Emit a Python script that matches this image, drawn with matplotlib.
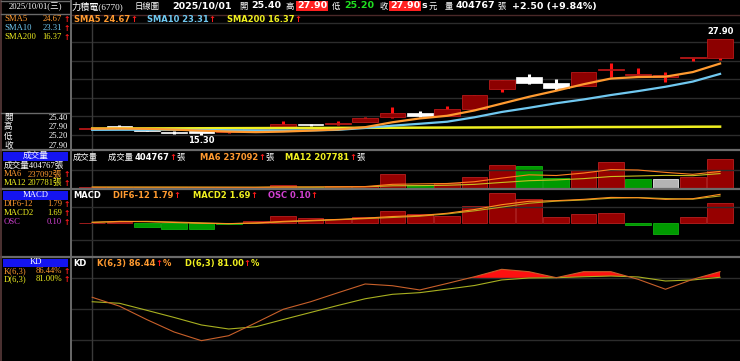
import numpy as np
import matplotlib
matplotlib.use("Agg")
import matplotlib.pyplot as plt
from matplotlib.patches import Rectangle

W, H = 740, 361

# daily bars, oldest first (last one = 2025/10/01)
opens  = [16.04, 16.25, 16.00, 15.72, 15.62, 15.62, 15.95, 16.36, 16.65, 16.68, 17.02, 17.60,
          18.20, 17.81, 18.65, 21.32, 22.86, 22.15, 21.72, 23.80, 23.12, 22.86, 25.35, 25.40]
highs  = [16.10, 16.58, 16.10, 15.75, 15.65, 15.75, 16.20, 17.10, 16.75, 17.10, 17.60, 19.00,
          18.47, 19.08, 20.55, 22.55, 23.26, 22.60, 23.55, 24.78, 24.04, 23.60, 25.45, 27.90]
lows   = [16.00, 16.15, 15.75, 15.45, 15.30, 15.60, 15.90, 16.30, 16.45, 16.60, 16.95, 17.55,
          17.60, 17.80, 18.60, 20.97, 21.98, 21.19, 21.70, 22.94, 23.03, 22.28, 25.05, 25.20]
closes = [16.07, 16.20, 15.80, 15.50, 15.55, 15.68, 16.10, 16.68, 16.55, 16.80, 17.47, 18.12,
          17.81, 18.69, 20.53, 22.51, 22.15, 21.41, 23.52, 23.84, 23.16, 23.16, 25.40, 27.90]

sma5   = [16.10, 16.12, 16.08, 15.98, 15.85, 15.72, 15.65, 15.72, 15.85, 16.00, 16.30, 16.95,
          17.45, 17.80, 18.50, 19.40, 20.30, 21.10, 21.95, 22.70, 22.90, 22.95, 23.55, 24.67]
sma10  = [15.95, 15.96, 15.96, 15.95, 15.93, 15.90, 15.88, 15.87, 15.88, 15.95, 16.20, 16.50,
          16.75, 17.02, 17.60, 18.30, 18.85, 19.45, 19.95, 20.53, 21.05, 21.62, 22.30, 23.31]
sma200 = [16.12, 16.13, 16.14, 16.15, 16.16, 16.17, 16.18, 16.19, 16.20, 16.21, 16.22, 16.23,
          16.24, 16.25, 16.26, 16.27, 16.28, 16.29, 16.31, 16.32, 16.33, 16.34, 16.36, 16.37]

volume = [27000, 22000, 22000, 22000, 22000, 22000, 22000, 54000, 22000, 35000, 45000, 202000,
          58000, 81000, 166000, 328000, 314000, 143000, 260000, 359000, 135000, 135000, 157000, 404767]
vol_dir = ['r', 'g', 'g', 'g', 'g', 'r', 'r', 'r', 'g', 'r', 'r', 'r',
           'g', 'r', 'r', 'r', 'g', 'g', 'r', 'r', 'g', 'n', 'r', 'r']
vol_ma6  = [24000, 24000, 24000, 23500, 23000, 22800, 22000, 27000, 27000, 29500, 33000, 63000,
            69000, 74000, 98000, 147000, 191000, 182000, 215000, 262000, 256000, 224000, 198000, 237092]
vol_ma12 = [26000, 25500, 25000, 25000, 24500, 24000, 24000, 26000, 26000, 27500, 30000, 43000,
            45700, 50600, 62600, 88000, 112000, 122500, 140000, 168000, 176000, 184000, 180000, 207781]

dif   = [0.06, 0.12, 0.10, 0.05, 0.00, -0.02, 0.02, 0.12, 0.18, 0.24, 0.32, 0.42,
         0.48, 0.62, 0.85, 1.15, 1.36, 1.40, 1.48, 1.60, 1.58, 1.48, 1.52, 1.79]
macd2 = [0.06, 0.11, 0.12, 0.08, 0.03, -0.02, 0.01, 0.09, 0.15, 0.22, 0.29, 0.36,
         0.44, 0.58, 0.77, 1.00, 1.24, 1.37, 1.44, 1.55, 1.59, 1.53, 1.49, 1.69]
osc   = [0.002, 0.007, -0.016, -0.028, -0.028, -0.003, 0.013, 0.034, 0.026, 0.021, 0.029, 0.058,
         0.044, 0.037, 0.084, 0.146, 0.117, 0.032, 0.045, 0.051, -0.008, -0.052, 0.032, 0.10]

k_val = [61.6, 53.0, 40.0, 28.0, 19.6, 24.4, 37.0, 50.0, 57.3, 66.0, 74.5, 72.8,
         68.7, 75.0, 81.5, 88.7, 86.4, 80.6, 86.4, 86.4, 79.0, 69.4, 79.0, 86.44]
d_val = [57.3, 55.8, 49.0, 42.1, 34.8, 30.9, 33.1, 40.1, 46.9, 53.7, 60.2, 64.5,
         66.1, 69.5, 73.0, 78.4, 80.3, 80.6, 81.5, 82.2, 81.3, 77.4, 78.4, 81.00]

# colours
ORANGE = '#ff9a30'
LBLUE = '#70c8f0'
YELLOW = '#f0f020'
MAGENTA = '#d040d0'
ARROW = '#ff1a1a'
WICK = '#ff1010'
GRID = '#2c2c2c'
SEP = '#6a6a6a'

CJK = ['Noto Sans CJK TC', 'DejaVu Sans']
SERIF = ['Liberation Serif', 'Noto Sans CJK TC']
B6 = dict(family=['DejaVu Sans', 'Noto Sans CJK TC'], weight='bold', fontsize=6.0)
C6 = dict(family=CJK, fontsize=6.0)
S7 = dict(family=SERIF, fontsize=6.6)
S6 = dict(family=SERIF, fontsize=6.2)
AR = dict(family='DejaVu Sans', weight='bold', fontsize=6.0)

fig = plt.figure(figsize=(W / 100, H / 100), dpi=100, facecolor='black')


def box(x0, y0, x1, y1):
    ax = fig.add_axes([x0 / W, 1 - y1 / H, (x1 - x0) / W, (y1 - y0) / H])
    ax.set_facecolor('black')
    ax.set_xticks([])
    ax.set_yticks([])
    for s in ax.spines.values():
        s.set_visible(False)
    ax.set_xlim(-0.74, 23.73)
    return ax


x = np.arange(len(closes))

# ---- price panel ----
ax_p = box(72, 15, 740, 149)
ax_p.set_ylim(13.43, 31.06)
for g in np.linspace(15.27, 29.97, 7):
    ax_p.axhline(g, color=GRID, lw=1)
ax_p.axvline(0, color='#3a3a3a', lw=1)
for i in range(len(x)):
    o, h, l, c = opens[i], highs[i], lows[i], closes[i]
    down = c < o
    ax_p.vlines(i, l, h, color='white' if down else WICK, lw=2.2, zorder=2)
    lo = min(o, c)
    ht = max(abs(c - o), 0.2)
    if down:
        ax_p.add_patch(Rectangle((i - 0.47, lo), 0.94, ht, facecolor='white', edgecolor='white', lw=0.5, zorder=3))
    else:
        ax_p.add_patch(Rectangle((i - 0.47, lo), 0.94, ht, facecolor='#8c0000', edgecolor='#b81818', lw=0.6, zorder=3))
ax_p.plot(x, sma200, color=YELLOW, lw=1.8, zorder=4)
ax_p.plot(x, sma10, color=LBLUE, lw=1.6, zorder=4)
ax_p.plot(x, sma5, color=ORANGE, lw=1.6, zorder=4)
ax_p.text(23, highs[-1] + 0.35, '27.90', color='white', ha='center', va='bottom', **B6)
ax_p.text(4, lows[4] - 0.2, '15.30', color='white', ha='center', va='top', **B6)

# ---- volume panel ----
ax_v = box(72, 150, 740, 189)
ax_v.set_ylim(0, 526000)
ax_v.axhline(256000, color=GRID, lw=1)
ax_v.axvline(0, color='#3a3a3a', lw=1)
face = {'r': '#960000', 'g': '#009a00', 'n': '#b4b4b4'}
edge = {'r': '#b82020', 'g': '#10b010', 'n': '#e8e8e8'}
ax_v.bar(x, volume, width=0.94, color=[face[d] for d in vol_dir],
         edgecolor=[edge[d] for d in vol_dir], lw=0.6)
ax_v.plot(x, vol_ma12, color='#c8c020', lw=0.8)
ax_v.plot(x, vol_ma6, color='#ff8020', lw=0.8)

# ---- MACD panel ----
ax_m = box(72, 189, 740, 256)
ax_m.set_ylim(-0.1587, 0.1665)
ax_m.axvline(0, color='#3a3a3a', lw=1)
osc_a = np.array(osc)
ax_m.bar(x, osc_a, width=0.94, color=np.where(osc_a >= 0, '#960000', '#009a00'),
         edgecolor=np.where(osc_a >= 0, '#b82020', '#10b010'), lw=0.6)
ax_d = ax_m.twinx()
ax_d.set_ylim(-2.02, 2.12)
ax_d.set_yticks([])
for s in ax_d.spines.values():
    s.set_visible(False)
for g in (1.02, -1.03):
    ax_d.axhline(g, color=GRID, lw=1, zorder=0)
ax_d.plot(x, macd2, color='#b8a820', lw=0.8)
ax_d.plot(x, dif, color='#ff9020', lw=0.8)

# ---- KD panel ----
ax_k = box(72, 256, 740, 361)
ax_k.set_ylim(-0.1, 101.6)
for g in (80, 50, 20):
    ax_k.axhline(g, color=GRID, lw=1)
ax_k.axvline(0, color='#3a3a3a', lw=1)
k_a = np.array(k_val)
base = np.maximum(np.array(d_val), 80)
ax_k.fill_between(x, k_a, base, where=k_a > base, interpolate=True, color='#ff1010', lw=0)
ax_k.plot(x, d_val, color='#a8b020', lw=0.8)
ax_k.plot(x, k_val, color='#c8602a', lw=0.8)

# ---- overlay in pixel coordinates ----
ov = fig.add_axes([0, 0, 1, 1])
ov.set_xlim(0, W)
ov.set_ylim(H, 0)
ov.axis('off')
ov.patch.set_alpha(0)
ov.set_zorder(10)
rend = fig.canvas.get_renderer()


def seq(x0, y0, parts):
    for s, col, fp in parts:
        t = ov.text(x0, y0, s, color=col, ha='left', va='center', **fp)
        x0 += t.get_window_extent(rend).width
    return x0


# separators
ov.plot([71, W], [15, 15], color='#4a2828', lw=1)
for yy in (149.5, 189, 256.5):
    ov.plot([0, W], [yy, yy], color=SEP, lw=1.6)
ov.plot([71, 71], [0, H], color=SEP, lw=1.4)
ov.plot([1, 1], [0, H], color='#5a3a3a', lw=1.2)
ov.plot([1, 70], [13.5, 13.5], color=SEP, lw=1)
ov.plot([1, 70], [112.5, 112.5], color=SEP, lw=1)
ov.plot([1, 70], [1, 1], color=SEP, lw=1)

# header
ov.text(35.5, 7, '2025/10/01(三)', color='white', ha='center', va='center', **S6)
HY = 6
ov.text(72, HY, '力積電(6770)', color='white', ha='left', va='center', **S7)
ov.text(135, HY, '日線圖', color='white', ha='left', va='center', **C6)
HB = dict(family=['DejaVu Sans'], weight='bold', fontsize=6.8)
ov.text(172, HY, '2025/10/01', color='white', ha='left', va='center', **HB)
ov.text(239, HY, '開', color='white', ha='left', va='center', **C6)
ov.text(251, HY, '25.40', color='white', ha='left', va='center', **HB)
ov.text(286, HY, '高', color='white', ha='left', va='center', **C6)
ov.text(312, HY, '27.90', color='white', ha='center', va='center',
        bbox=dict(facecolor='#ff2020', edgecolor='none', pad=0.5), **HB)
ov.text(332, HY, '低', color='white', ha='left', va='center', **C6)
ov.text(344, HY, '25.20', color='#20e020', ha='left', va='center', **HB)
ov.text(380, HY, '收', color='white', ha='left', va='center', **C6)
ov.text(405, HY, '27.90', color='white', ha='center', va='center',
        bbox=dict(facecolor='#ff2020', edgecolor='none', pad=0.5), **HB)
ov.text(422, HY, 's', color='white', ha='left', va='center', **HB)
ov.text(429, HY, '元', color='white', ha='left', va='center', **C6)
ov.text(445, HY, '量', color='white', ha='left', va='center', **C6)
ov.text(456, HY, '404767', color='white', ha='left', va='center', **HB)
ov.text(497, HY, '張', color='white', ha='left', va='center', **C6)
ov.text(512, HY, '+2.50 (+9.84%)', color='white', ha='left', va='center', **HB)

# panel legends
seq(74, 19.5, [('SMA5 24.67', ORANGE, B6), ('↑', ARROW, AR)])
seq(147, 19.5, [('SMA10 23.31', LBLUE, B6), ('↑', ARROW, AR)])
seq(227, 19.5, [('SMA200 16.37', YELLOW, B6), ('↑', ARROW, AR)])

ov.text(73, 157, '成交量', color='white', ha='left', va='center', **C6)
seq(108, 157, [('成交量 ', 'white', C6), ('404767', 'white', B6), ('↑', ARROW, AR), ('張', 'white', C6)])
seq(200, 157, [('MA6 237092', ORANGE, B6), ('↑', ARROW, AR), ('張', 'white', C6)])
seq(285, 157, [('MA12 207781', YELLOW, B6), ('↑', ARROW, AR), ('張', 'white', C6)])

ov.text(73, 196, 'MACD', color='white', ha='left', va='center', **B6)
seq(113, 196, [('DIF6-12 1.79', ORANGE, B6), ('↑', ARROW, AR)])
seq(193, 196, [('MACD2 1.69', YELLOW, B6), ('↑', ARROW, AR)])
seq(268, 196, [('OSC 0.10', MAGENTA, B6), ('↑', ARROW, AR)])

ov.text(73, 263.5, 'KD', color='white', ha='left', va='center', **B6)
seq(97, 263.5, [('K(6,3) 86.44', ORANGE, B6), ('↑', ARROW, AR), ('%', ORANGE, B6)])
seq(185, 263.5, [('D(6,3) 81.00', YELLOW, B6), ('↑', ARROW, AR), ('%', YELLOW, B6)])

# sidebar
SA = dict(family='DejaVu Sans', weight='bold', fontsize=5.5)


def side_row(y, label, value, col, arrow=True):
    ov.text(4, y, label, color=col, ha='left', va='center', **S6)
    ov.text(62, y, value, color=col, ha='right', va='center', **S6)
    if arrow:
        ov.text(63.5, y, '↑', color=ARROW, ha='left', va='center', **SA)


side_row(19, 'SMA5', '24.67', ORANGE)
side_row(28.3, 'SMA10', '23.31', LBLUE)
side_row(37.3, 'SMA200', '16.37', YELLOW)
for yy, lab, val in ((117.5, '開', '25.40'), (127, '高', '27.90'), (136.5, '低', '25.20'), (145.5, '收', '27.90')):
    ov.text(4, yy, lab, color='white', ha='left', va='center', **S6)
    ov.text(68, yy, val, color='white', ha='right', va='center', **S6)


def blue_box(y0, y1, label):
    ov.add_patch(Rectangle((3, y0), 65, y1 - y0, facecolor='#1414f0', edgecolor='none'))
    ov.text(35.5, (y0 + y1) / 2, label, color='white', ha='center', va='center', **S6)


blue_box(151.5, 160.5, '成交量')
ov.text(4, 166, '成交量404767張', color='white', ha='left', va='center', **S6)
side_row(174.5, 'MA6', '237092張', ORANGE)
side_row(183.3, 'MA12', '207781張', YELLOW)
blue_box(191, 199.5, 'MACD')
side_row(204.5, 'DIF6-12', '1.79', ORANGE)
side_row(213.3, 'MACD2', '1.69', YELLOW)
side_row(222.3, 'OSC', '0.10', MAGENTA)
blue_box(258.5, 266.5, 'KD')
side_row(271, 'K(6,3)', '86.44%', ORANGE)
side_row(279, 'D(6,3)', '81.00%', YELLOW)

fig.savefig('out.png', dpi=100, facecolor='black')
